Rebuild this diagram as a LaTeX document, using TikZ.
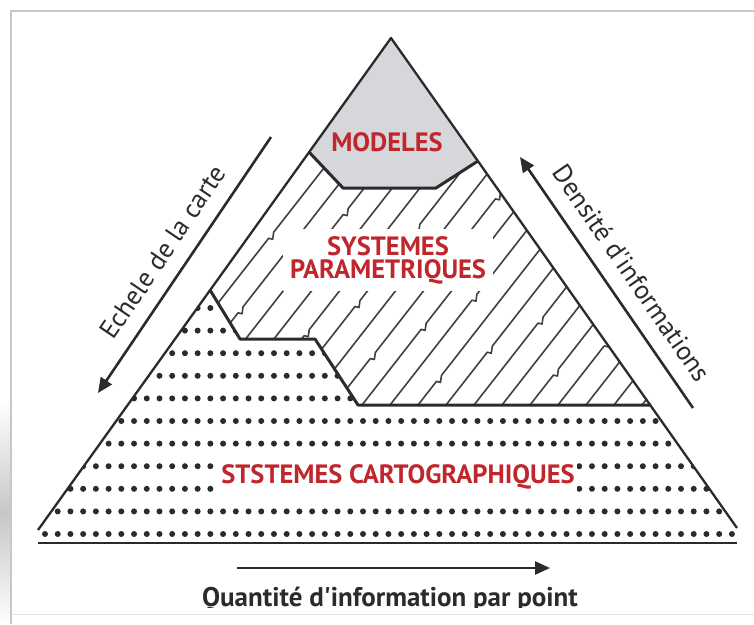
\documentclass[tikz,border=0pt]{standalone}
\usepackage{fontspec}
\setmainfont{PT Sans}
\usetikzlibrary{arrows.meta}
\definecolor{redtxt}{HTML}{C0272D}
\definecolor{graypent}{HTML}{D5D7DA}
\definecolor{linec}{HTML}{2B2B2B}
\begin{document}
\begin{tikzpicture}[x=1pt,y=-1pt,
  redlab/.style={text=redtxt, font=\fontsize{26.5}{23}\selectfont\bfseries, inner sep=0pt},
  triside/.style={draw=linec, line width=2.3pt, line join=round},
  boundln/.style={draw=linec, line width=3pt, line join=round},
  baseln/.style={draw=linec, line width=2.8pt},
  hatchline/.style={draw=linec!90, line width=1.6pt, line join=round},
  arrowln/.style={draw=linec, line width=2.6pt, -{Triangle[length=15pt,width=13pt]}},
  axislab/.style={text=linec, font=\fontsize{26.5}{28}\selectfont, inner sep=0pt},
  framegray/.style={draw=black!22, line width=1.5pt},
  dotmark/.style={fill=linec}]
\useasboundingbox (0,0) rectangle (754,624);
\fill[white] (0,0) rectangle (754,624);
% frame
\shade[top color=white, bottom color=white, middle color=black!22] (0,400) rectangle (11,624);
\draw[framegray] (11,624) -- (11,11) -- (754,11);
\draw[draw=black!10, line width=1pt] (11,614) -- (754,614);
% key points
\coordinate (A) at (391,38);
\coordinate (L) at (38,530);
\coordinate (R) at (737,528);
\coordinate (P1) at (309,152);
\coordinate (P2) at (343,188);
\coordinate (P3) at (436,188);
\coordinate (P4) at (478,161);
\coordinate (K1) at (210,290);
\coordinate (K2) at (240,339);
\coordinate (K3) at (315,339);
\coordinate (K4) at (358,405);
\coordinate (K5) at (651,405);
\coordinate (B1) at (38,543);
\coordinate (B2) at (737,543);
% models
\fill[graypent] (A) -- (P1) -- (P2) -- (P3) -- (P4) -- cycle;
% hatching
\begin{scope}
\clip (P1) -- (P2) -- (P3) -- (P4) -- (K5) -- (K4) -- (K3) -- (K2) -- (K1) -- cycle;
\foreach \i in {0,...,20} {
  \pgfmathsetmacro{\xs}{110+28*\i}
  \pgfmathsetmacro{\ta}{mod(37*\i+23,140)+20}
  \pgfmathsetmacro{\tb}{mod(53*\i+11,150)+60}
  \draw[hatchline] (\xs,405) -- ++({\ta*0.616},{-\ta*0.788}) -- ++(4,1) -- ++(1,-7)
     -- ++({\tb*0.616},{-\tb*0.788}) -- ++(4,1) -- ++(1,-7) -- ++({400*0.616},{-400*0.788});
}
\end{scope}
% dots
\begin{scope}
\clip (K1) -- (K2) -- (K3) -- (K4) -- (K5) -- (746,540) -- (31,540) -- cycle;
\foreach \r in {0,...,10} {
  \foreach \c in {0,...,54} {
    \fill[dotmark] ({45+12.72*\c},{534-22.6*\r}) circle[radius=3pt];
  }
}
\end{scope}
% boundaries
\draw[boundln] (P1) -- (P2) -- (P3) -- (P4);
\draw[boundln] (K1) -- (K2) -- (K3) -- (K4) -- (K5);
\draw[triside] (L) -- (A) -- (R);
\draw[baseln] (B1) -- (B2);
% texts
\node[redlab] (modeles) at (387,142) {MODELES};
\node[redlab, fill=white, inner sep=7pt, align=center] (param) at (388,260) {SYSTEMES\\PARAMETRIQUES};
\node[redlab, fill=white, inner xsep=2pt, minimum height=40pt] (carto) at (398,477) {STSTEMES CARTOGRAPHIQUES};
\node[axislab, rotate=55.9] (echele) at (163,252) {Echele de la carte};
\node[axislab, rotate=-55.4] (densite) at (632,273) {Densité d\textquotesingle informations};
% arrows
\coordinate (e1) at (271,137); \coordinate (e2) at (98,393);
\coordinate (d1) at (693,408); \coordinate (d2) at (520,157);
\coordinate (q1) at (237,568); \coordinate (q2) at (550,568);
\draw[arrowln] (e1) -- (e2);
\draw[arrowln] (d1) -- (d2);
\draw[arrowln] (q1) -- (q2);
\begin{scope}
\clip (0,0) rectangle (754,607);
\node[axislab, font=\fontsize{27}{28}\selectfont\bfseries, anchor=base] (quantite) at (390,606) {Quantité d\textquotesingle information par point};
\end{scope}
\end{tikzpicture}
\end{document}
